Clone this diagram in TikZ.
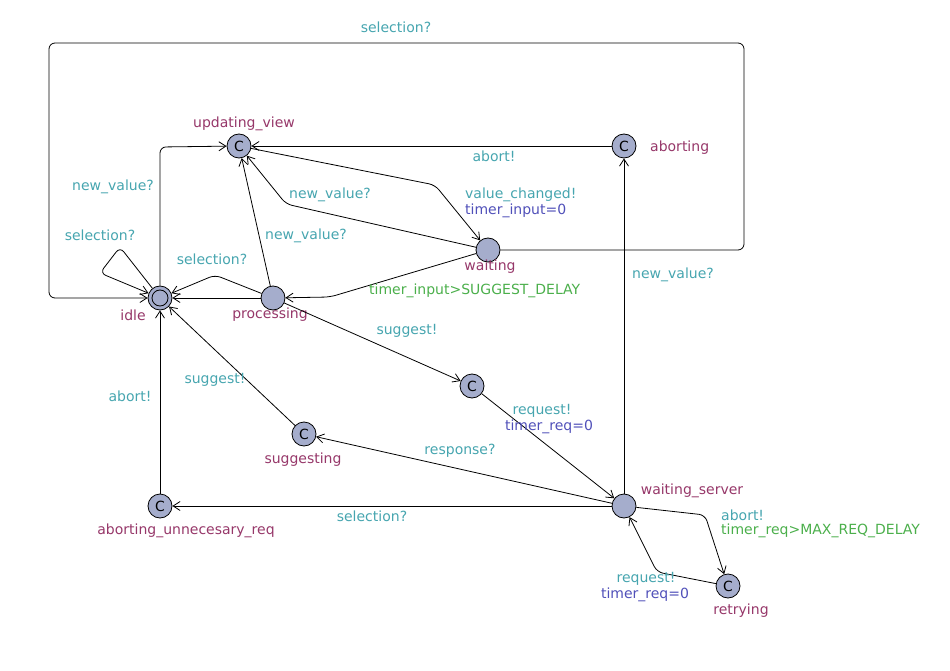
\documentclass[tikz,border=0pt]{standalone}
\usepackage{fontspec}
\setmainfont{DejaVu Sans}
\usetikzlibrary{arrows.meta}
\definecolor{locname}{RGB}{150,55,105}
\definecolor{syncc}{RGB}{70,165,175}
\definecolor{updc}{RGB}{80,80,185}
\definecolor{guardc}{RGB}{75,175,75}
\definecolor{locfill}{RGB}{165,173,204}
\tikzset{
  loc/.style={circle,draw=black,fill=locfill,line width=0.8pt,minimum size=24pt,inner sep=0pt},
  comm/.style={loc,font=\fontsize{14}{14}\selectfont},
  lname/.style={text=locname,font=\fontsize{14}{16}\selectfont,inner sep=0pt},
  sync/.style={text=syncc,font=\fontsize{14}{16}\selectfont,inner sep=0pt},
  upd/.style={text=updc,font=\fontsize{14}{16}\selectfont,inner sep=0pt},
  grd/.style={text=guardc,font=\fontsize{14}{16}\selectfont,inner sep=0pt},
  edge/.style={draw=black,line width=0.8pt,rounded corners=6pt,-{Straight Barb[length=7pt,width=9pt,line width=0.8pt]}},
}
\begin{document}
\begin{tikzpicture}[x=1pt,y=-1pt]
\useasboundingbox (0,0) rectangle (950,671);
% locations
\node[comm] (updating) at (239,146) {C};
\node[comm] (aborting) at (624,146) {C};
\node[loc] (waiting) at (488,250) {};
\node[loc] (idle) at (160,298) {};
\draw[line width=0.8pt] (idle) circle (8pt);
\node[loc] (processing) at (273,298) {};
\node[comm] (cnode) at (472,386) {C};
\node[comm] (suggesting) at (304,434) {C};
\node[comm] (abortunn) at (160,506) {C};
\node[loc] (wserver) at (624,506) {};
\node[comm] (retrying) at (728,586) {C};
% location names
\node[lname] (n1) at (244,124) {updating\_view};
\node[lname,anchor=west] (n2) at (650,148) {aborting};
\node[lname] (n3) at (490,267) {waiting};
\node[lname] (n4) at (133,315) {idle};
\node[lname] (n5) at (270,315) {processing};
\node[lname] (n6) at (303,460) {suggesting};
\node[lname] (n7) at (186,531) {aborting\_unnecesary\_req};
\node[lname] (n8) at (692,491) {waiting\_server};
\node[lname] (n9) at (741,611) {retrying};
% nails
\coordinate (b1) at (744,250);
\coordinate (b2) at (744,43);
\coordinate (b3) at (49,43);
\coordinate (b4) at (49,298);
\coordinate (s1) at (120,247);
\coordinate (s2) at (100,273);
\coordinate (u1) at (160,147);
\coordinate (v1) at (435,185);
\coordinate (w1) at (286,204);
\coordinate (p1) at (215,275);
\coordinate (w2) at (330,297);
\coordinate (r1) at (705,515);
\coordinate (r2) at (657,572);
% edges
\draw[edge] (waiting) -- (b1) -- (b2) -- (b3) -- (b4) -- (idle);
\draw[edge] (idle) -- (s1) -- (s2) -- (idle);
\draw[edge] (idle.north) -- (u1) -- (updating);
\draw[edge] (aborting) -- (updating);
\draw[edge] (updating) -- (v1) -- (waiting);
\draw[edge] (waiting) -- (w1) -- (updating);
\draw[edge] (processing) -- (updating);
\draw[edge] (processing) -- (idle);
\draw[edge] (processing) -- (p1) -- (idle);
\draw[edge] (waiting) -- (w2) -- (processing);
\draw[edge] (processing) -- (cnode);
\draw[edge] (cnode) -- (wserver);
\draw[edge] (suggesting) -- (idle);
\draw[edge] (wserver) -- (suggesting);
\draw[edge] (wserver) -- (abortunn);
\draw[edge] (abortunn) -- (idle);
\draw[edge] (wserver) -- (aborting);
\draw[edge] (wserver) -- (r1) -- (retrying);
\draw[edge] (retrying) -- (r2) -- (wserver);
% edge labels
\node[sync] (l1) at (396,27) {selection?};
\node[sync] (l2) at (113,187) {new\_value?};
\node[sync] (l3) at (100,235) {selection?};
\node[sync] (l4) at (494,156) {abort!};
\node[sync] (l5) at (330,195) {new\_value?};
\node[sync,anchor=west] (l6) at (465,195) {value\_changed!};
\node[upd,anchor=west] (l7) at (465,211) {timer\_input=0};
\node[sync] (l8) at (306,236) {new\_value?};
\node[sync] (l9) at (212,259) {selection?};
\node[grd,anchor=west] (l10) at (369,291) {timer\_input>SUGGEST\_DELAY};
\node[sync] (l11) at (673,275) {new\_value?};
\node[sync] (l12) at (407,331) {suggest!};
\node[sync] (l13) at (215,380) {suggest!};
\node[sync] (l14) at (130,396) {abort!};
\node[sync] (l15) at (542,411) {request!};
\node[upd] (l16) at (549,427) {timer\_req=0};
\node[sync] (l17) at (460,451) {response?};
\node[sync] (l18) at (372,516) {selection?};
\node[sync,anchor=west] (l19) at (721,515) {abort!};
\node[grd,anchor=west] (l20) at (721,531) {timer\_req>MAX\_REQ\_DELAY};
\node[sync] (l21) at (646,579) {request!};
\node[upd] (l22) at (645,595) {timer\_req=0};
\end{tikzpicture}
\end{document}
